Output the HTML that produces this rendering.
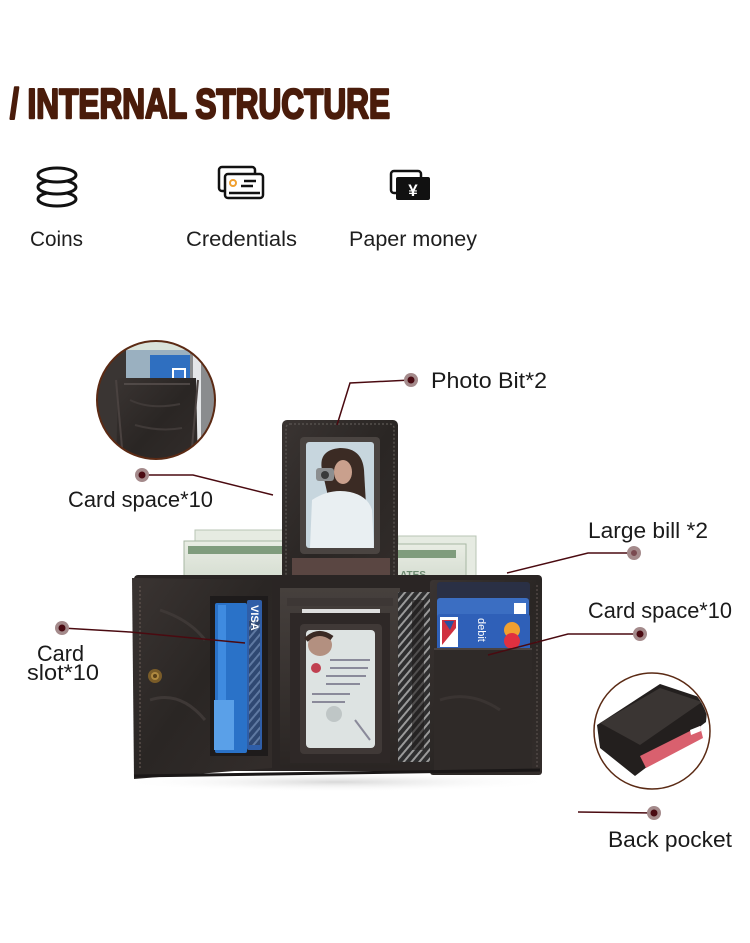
<!DOCTYPE html>
<html><head><meta charset="utf-8"><style>
html,body{margin:0;padding:0;background:#fff;}
svg{display:block;}
text{font-family:"Liberation Sans",sans-serif;}
</style></head><body>
<svg width="750" height="943" viewBox="0 0 750 943" xmlns="http://www.w3.org/2000/svg">
<defs>
<linearGradient id="lea" x1="0" y1="0" x2="1" y2="1">
<stop offset="0" stop-color="#3a3432"/><stop offset="0.5" stop-color="#2a2624"/><stop offset="1" stop-color="#332d2b"/>
</linearGradient>
<linearGradient id="lea2" x1="0" y1="0" x2="0" y2="1">
<stop offset="0" stop-color="#46403d"/><stop offset="1" stop-color="#2a2523"/>
</linearGradient>
<linearGradient id="bill" x1="0" y1="0" x2="0" y2="1">
<stop offset="0" stop-color="#e9ede4"/><stop offset="1" stop-color="#cfd8cb"/>
</linearGradient>
<pattern id="hatch" width="6" height="6" patternUnits="userSpaceOnUse" patternTransform="rotate(40)">
<rect width="6" height="6" fill="#2e2e2f"/><rect width="2" height="6" fill="#9a9a9a"/>
</pattern>
<clipPath id="c1"><circle cx="156" cy="400" r="59"/></clipPath>
<clipPath id="c2"><circle cx="652" cy="731" r="57"/></clipPath>
<radialGradient id="shadow" cx="0.5" cy="0.5" r="0.5">
<stop offset="0" stop-color="#d8d8d8"/><stop offset="1" stop-color="#fff" stop-opacity="0"/>
</radialGradient>
</defs>

<!-- Title -->
<text x="10" y="118" font-size="42" font-weight="bold" fill="#4a1c0b" stroke="#4a1c0b" stroke-width="2.4" stroke-linejoin="round" textLength="380" lengthAdjust="spacingAndGlyphs">/ INTERNAL STRUCTURE</text>

<!-- Coins icon -->
<g fill="#fff" stroke="#111" stroke-width="3">
<ellipse cx="57" cy="199" rx="19" ry="7"/>
<ellipse cx="57" cy="187" rx="19" ry="7"/>
<ellipse cx="57" cy="175" rx="19" ry="7"/>
</g>
<!-- Credentials icon -->
<g fill="none" stroke="#111" stroke-width="2.5">
<rect x="219" y="167" width="36" height="24" rx="3" fill="#fff"/>
<rect x="225" y="174" width="38" height="24" rx="3" fill="#fff"/>
<line x1="244" y1="181" x2="256" y2="181"/>
<line x1="241" y1="186" x2="253" y2="186"/>
<line x1="229" y1="193" x2="260" y2="193"/>
</g>
<circle cx="233" cy="183" r="3" fill="none" stroke="#f0a030" stroke-width="2"/>
<!-- Paper money icon -->
<rect x="391" y="171" width="30" height="22" rx="3" fill="#fff" stroke="#111" stroke-width="2.5"/>
<rect x="396" y="177" width="34" height="23" rx="2" fill="#111"/>
<text x="413" y="196" font-size="17" font-weight="bold" fill="#fff" text-anchor="middle">¥</text>

<!-- Icon labels -->
<g font-size="21" fill="#1e1e1e">
<text x="30" y="246" textLength="53" lengthAdjust="spacingAndGlyphs">Coins</text>
<text x="186" y="246" textLength="111" lengthAdjust="spacingAndGlyphs">Credentials</text>
<text x="349" y="246" textLength="128" lengthAdjust="spacingAndGlyphs">Paper money</text>
</g>

<!-- Top-left circle detail -->
<g clip-path="url(#c1)">
<rect x="90" y="335" width="140" height="130" fill="#d9e2da"/>
<rect x="96" y="345" width="30" height="120" fill="#3a3533"/>
<rect x="186" y="345" width="30" height="120" fill="#8a8c8e"/>
<rect x="193" y="355" width="8" height="110" fill="#e4e6e8"/>
<rect x="126" y="350" width="64" height="30" fill="#9ab0c0"/>
<rect x="150" y="355" width="40" height="25" fill="#2f6fc0"/>
<rect x="172" y="368" width="14" height="12" fill="#fff"/>
<rect x="174" y="370" width="10" height="8" fill="#3a7ad0"/>
<path d="M118 378 L196 378 L198 470 L116 470 Z" fill="url(#lea)"/>
<path d="M124 384 L190 384" stroke="#5a5250" stroke-width="1.5"/>
<path d="M116 380 L124 470 M198 380 L190 470" stroke="#4a4240" stroke-width="2"/>
<path d="M130 400 Q150 410 180 404 M135 425 Q160 432 182 428" stroke="#403a38" stroke-width="2" fill="none"/>
</g>
<circle cx="156" cy="400" r="59" fill="none" stroke="#5b2a14" stroke-width="2"/>

<!-- Back pocket circle -->
<g clip-path="url(#c2)">
<rect x="590" y="670" width="125" height="125" fill="#fff"/>
<polygon points="597,725 660,684 708,700 706,722 635,776 600,748" fill="#231f1e"/>
<polygon points="600,723 660,688 702,702 640,745" fill="#3a3533"/>
<polygon points="640,756 700,726 703,738 646,768" fill="#d9606e"/>
<polygon points="690,730 700,726 701,731 691,735" fill="#fff"/>
</g>
<circle cx="652" cy="731" r="58" fill="none" stroke="#5a2a14" stroke-width="1.5"/>

<!-- Wallet shadow -->
<ellipse cx="337" cy="782" rx="220" ry="10" fill="url(#shadow)"/>

<!-- Bills left -->
<rect x="195" y="530" width="95" height="58" fill="#e6ebe2" stroke="#b8c4b4"/>
<rect x="184" y="541" width="106" height="50" fill="url(#bill)" stroke="#a7b7a3"/>
<rect x="188" y="546" width="98" height="8" fill="#7f9c7d"/>
<text x="200" y="583" font-size="9" fill="#6c8a70">FF 95594731 A</text>
<!-- Bills right -->
<rect x="398" y="536" width="78" height="52" fill="#e6ebe2" stroke="#b8c4b4"/>
<rect x="396" y="544" width="70" height="46" fill="url(#bill)" stroke="#a7b7a3"/>
<rect x="396" y="550" width="60" height="8" fill="#7f9c7d"/>
<text x="400" y="578" font-size="10" font-weight="bold" fill="#6c8a70">ATES</text>

<!-- Photo flap -->
<rect x="282" y="420" width="116" height="180" rx="5" fill="url(#lea)"/>
<rect x="286" y="424" width="108" height="172" rx="4" fill="none" stroke="#55504d" stroke-width="1.5" stroke-dasharray="2 2"/>
<rect x="300" y="437" width="80" height="117" rx="4" fill="#4a4441"/>
<rect x="306" y="442" width="68" height="106" rx="3" fill="#c7d6de"/>
<path d="M322 470 Q318 450 340 448 Q362 448 364 470 L366 505 L330 505 Z" fill="#3b2b24"/>
<ellipse cx="343" cy="472" rx="9" ry="12" fill="#c9a08d"/>
<rect x="316" y="468" width="18" height="13" rx="3" fill="#8c8e90"/>
<circle cx="325" cy="475" r="4" fill="#3a3a3a"/>
<path d="M310 548 L312 500 Q330 488 350 492 Q368 496 372 510 L374 548 Z" fill="#e9eff2"/>
<rect x="292" y="558" width="98" height="34" fill="#5a4642"/>

<!-- Main wallet body -->
<rect x="134" y="575" width="408" height="196" rx="4" fill="#2a2524"/>
<!-- Left panel -->
<polygon points="132,578 272,580 272,768 134,779" fill="url(#lea)"/>
<path d="M140 586 L140 770" stroke="#5a4f4a" stroke-width="1.5" stroke-dasharray="2 2"/>
<path d="M160 610 Q190 620 205 640 M150 700 Q180 690 205 720" stroke="#3e3836" stroke-width="3" fill="none"/>
<circle cx="155" cy="676" r="7" fill="#7a5c28"/>
<circle cx="155" cy="676" r="4" fill="#b08a40"/>
<circle cx="155" cy="676" r="2" fill="#5a4018"/>
<rect x="210" y="596" width="58" height="160" fill="#1e1b1b"/>
<rect x="215" y="603" width="32" height="150" rx="2" fill="#2a72c8"/>
<rect x="218" y="605" width="8" height="145" fill="#3f8be0"/>
<rect x="214" y="700" width="20" height="50" fill="#5aa0e8"/>
<rect x="247" y="600" width="15" height="150" rx="2" fill="#2f5ea8"/>
<rect x="249" y="620" width="11" height="125" fill="url(#hatch)" opacity="0.45"/>
<text transform="translate(251,605) rotate(90)" font-size="11" font-weight="bold" fill="#fff">VISA</text>

<!-- Center panel -->
<rect x="280" y="588" width="120" height="180" fill="url(#lea2)"/>
<rect x="287" y="598" width="106" height="8" fill="#3d3735"/>
<rect x="302" y="609" width="78" height="6" fill="#ddd"/>
<rect x="290" y="613" width="100" height="150" fill="#2e2827"/>
<rect x="300" y="624" width="82" height="130" rx="4" fill="#403937"/>
<rect x="306" y="630" width="69" height="118" rx="4" fill="#dde3e2"/>
<ellipse cx="320" cy="645" rx="12" ry="11" fill="#b39080"/>
<path d="M306 640 Q318 628 332 638" stroke="#3a2a24" stroke-width="5" fill="none"/>
<circle cx="316" cy="668" r="5" fill="#c04050"/>
<g stroke="#8a8a9a" stroke-width="2">
<line x1="330" y1="660" x2="370" y2="660"/><line x1="330" y1="668" x2="368" y2="668"/>
<line x1="326" y1="676" x2="366" y2="676"/><line x1="326" y1="684" x2="360" y2="684"/>
<line x1="312" y1="694" x2="350" y2="694"/><line x1="312" y1="702" x2="345" y2="702"/>
</g>
<circle cx="334" cy="714" r="8" fill="#bfc6c6"/>
<line x1="355" y1="720" x2="370" y2="740" stroke="#8a8a9a" stroke-width="2"/>

<!-- Hatched strip -->
<rect x="398" y="592" width="34" height="170" fill="url(#hatch)"/>
<rect x="412" y="600" width="12" height="150" fill="#1f1c1c" opacity="0.6"/>

<!-- Right panel -->
<rect x="430" y="580" width="112" height="195" rx="3" fill="url(#lea)"/>
<rect x="437" y="582" width="93" height="40" rx="3" fill="#2a3045"/>
<rect x="502" y="598" width="16" height="8" fill="#b9bec8"/>
<rect x="437" y="598" width="92" height="40" rx="3" fill="#3b6ec2"/>
<rect x="514" y="603" width="12" height="12" fill="#fff"/>
<rect x="437" y="614" width="93" height="40" rx="3" fill="#2f60b8"/>
<rect x="440" y="617" width="18" height="30" fill="#fff"/>
<path d="M442 620 L456 620 L456 628 L442 645 Z" fill="#d03040"/>
<path d="M444 621 L454 621 L450 630 Z" fill="#2a50a0"/>
<circle cx="512" cy="630" r="8" fill="#f0a030"/>
<circle cx="512" cy="641" r="8" fill="#e03040"/>
<text transform="translate(478,618) rotate(90)" font-size="11" fill="#fff">debit</text>
<rect x="434" y="648" width="98" height="122" fill="#2f2a28"/>
<path d="M434 649 L532 649" stroke="#4a4341" stroke-width="2"/>
<path d="M440 700 Q470 690 500 710" stroke="#3a3432" stroke-width="3" fill="none"/>
<path d="M537 585 L537 770" stroke="#4f4744" stroke-width="1.5" stroke-dasharray="2 2"/>
<path d="M134 776 L540 770" stroke="#1a1717" stroke-width="3"/>

<!-- Connector lines -->
<g fill="none" stroke="#4a0a10" stroke-width="1.5">
<polyline points="142,475 193,475 273,495"/>
<polyline points="411,380 350,383 337,425"/>
<polyline points="634,553 588,553 507,573"/>
<polyline points="640,634 568,634 488,655"/>
<polyline points="62,628 130,632 245,643"/>
<polyline points="654,813 578,812"/>
</g>
<!-- Dots -->
<g>
<circle cx="142" cy="475" r="7" fill="#a48a8b"/><circle cx="142" cy="475" r="3.5" fill="#4a0a12"/>
<circle cx="411" cy="380" r="7" fill="#a48a8b"/><circle cx="411" cy="380" r="3.5" fill="#4a0a12"/>
<circle cx="634" cy="553" r="7" fill="#a48a8b"/><circle cx="634" cy="553" r="3" fill="#7a4a50"/>
<circle cx="640" cy="634" r="7" fill="#a48a8b"/><circle cx="640" cy="634" r="3.5" fill="#4a0a12"/>
<circle cx="62" cy="628" r="7" fill="#a48a8b"/><circle cx="62" cy="628" r="3.5" fill="#4a0a12"/>
<circle cx="654" cy="813" r="7" fill="#a48a8b"/><circle cx="654" cy="813" r="3.5" fill="#4a0a12"/>
</g>

<!-- Labels -->
<g font-size="22" fill="#1a1a1a">
<text x="431" y="388" textLength="116" lengthAdjust="spacingAndGlyphs">Photo Bit*2</text>
<text x="68" y="507" textLength="145" lengthAdjust="spacingAndGlyphs">Card space*10</text>
<text x="588" y="538" textLength="120" lengthAdjust="spacingAndGlyphs">Large bill *2</text>
<text x="588" y="618" textLength="144" lengthAdjust="spacingAndGlyphs">Card space*10</text>
<text x="37" y="661" textLength="47" lengthAdjust="spacingAndGlyphs">Card</text>
<text x="27" y="680" textLength="72" lengthAdjust="spacingAndGlyphs">slot*10</text>
<text x="608" y="847" textLength="124" lengthAdjust="spacingAndGlyphs">Back pocket</text>
</g>
</svg>
</body></html>
